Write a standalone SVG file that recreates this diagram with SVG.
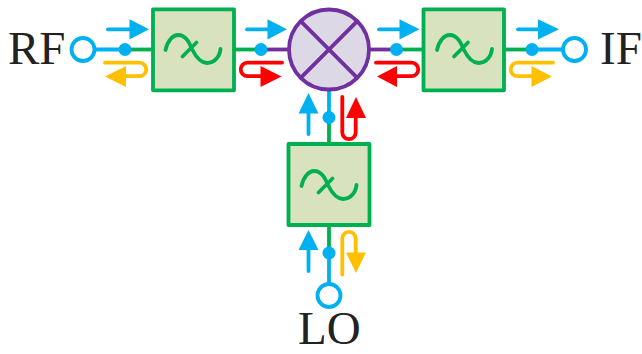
<svg xmlns="http://www.w3.org/2000/svg" width="642" height="354" viewBox="0 0 642 354">
<style>
.box{fill:#D8E2BE;stroke:#00B050;stroke-width:3.8;stroke-linejoin:round}
.sine{fill:none;stroke:#00B050;stroke-width:3.8;stroke-linecap:round}
.mix{fill:#DDD8E6;stroke:#7030A0;stroke-width:3.8}
.mixl{fill:none;stroke:#7030A0;stroke-width:3.8}
.port{fill:#fff;stroke:#00B0F0;stroke-width:3.8}
.g{stroke:#00B050;stroke-width:3.8;fill:none}
.b{stroke:#00B0F0;stroke-width:3.8;fill:none}
.p{stroke:#7030A0;stroke-width:3.8;fill:none}
.dot{fill:#00B0F0}
.ab{stroke:#00B0F0;stroke-width:3.8;fill:none;stroke-linecap:round}
.ar{stroke:#FF0000;stroke-width:3.8;fill:none;stroke-linecap:round}
.ay{stroke:#FFC000;stroke-width:3.8;fill:none;stroke-linecap:round}
.hb{fill:#00B0F0}.hr{fill:#FF0000}.hy{fill:#FFC000}
text{font-family:"Liberation Serif",serif;font-size:47px;fill:#222}
</style>
<defs>
<path id="wave" class="sine" d="M-24.500 .5C-22.500 -9 -17 -14.500 -12 -14.500C-4 -14.500 -.5 -6.500 2.500 .5C6 7.500 10 13.500 17 13.500C24 13.500 29.500 8 30.500 -.5M-7.500 7 L6.500 -7"/>
</defs>
<g id="connectors">
<path class="b" d="M83 49.500H125"/><path class="g" d="M125 49.500H153"/>
<path class="g" d="M234 49.500H261"/><path class="p" d="M261 49.500H289"/>
<path class="p" d="M369 49.500H396.500"/><path class="g" d="M396.500 49.500H424"/>
<path class="g" d="M504 49.500H532"/><path class="b" d="M532 49.500H575"/>
<path class="b" d="M329 90V117.500"/><path class="g" d="M329 117.500V144"/>
<path class="g" d="M329 225V253"/><path class="b" d="M329 253V284"/>
<circle class="dot" cx="125" cy="49.500" r="6.500"/>
<circle class="dot" cx="261" cy="49.500" r="6.500"/>
<circle class="dot" cx="396.500" cy="49.500" r="6.500"/>
<circle class="dot" cx="532" cy="49.500" r="6.500"/>
<circle class="dot" cx="329" cy="117.500" r="6.500"/>
<circle class="dot" cx="329" cy="253" r="6.500"/>
<path class="ab" d="M108 29.300H132"/><path class="hb" d="M129.500 19.300L149 29.300L129.500 39.500Z"/>
<path class="ab" d="M247 29.300H270"/><path class="hb" d="M267.500 19.300L287 29.300L267.500 39.500Z"/>
<path class="ab" d="M379 29.300H402"/><path class="hb" d="M399.500 19.300L419.500 29.300L399.500 39.500Z"/>
<path class="ab" d="M518 29.300H541"/><path class="hb" d="M538 19.300L559 29.300L538 39.500Z"/>
<path class="ay" d="M105 62.700H139.500A6.700 6.700 0 0 1 139.500 76.200H122"/><path class="hy" d="M126 66L105 76.500L126 87Z"/>
<path class="ar" d="M282 62.700H247.500A6.700 6.700 0 0 0 247.500 76.200H265"/><path class="hr" d="M260.500 66L281.500 76.500L260.500 87Z"/>
<path class="ar" d="M376 62.700H411.500A6.700 6.700 0 0 1 411.500 76.200H393"/><path class="hr" d="M397 66L377 76.500L397 87Z"/>
<path class="ay" d="M553 62.700H517.500A6.700 6.700 0 0 0 517.500 76.200H535"/><path class="hy" d="M531.500 66L552 76.500L531.500 87Z"/>
<path class="ab" d="M308.500 134V110"/><path class="hb" d="M298.500 113.500L308.500 93L318.500 113.500Z"/>
<path class="ar" d="M342.300 97V132.500A6.700 6.700 0 0 0 355.700 132.500V114"/><path class="hr" d="M346 118L356 97L366 118Z"/>
<path class="ab" d="M308.500 271V247"/><path class="hb" d="M298.500 250L308.500 230L318.500 250Z"/>
<path class="ay" d="M342.300 274.500V238.500A6.700 6.700 0 0 1 355.700 238.500V256"/><path class="hy" d="M346 252.500L356 273L366 252.500Z"/>
</g>
<g id="filter-rf"><rect class="box" x="153" y="9.300" width="81" height="81"/><use href="#wave" x="190" y="49.500"/></g>
<g id="filter-if"><rect class="box" x="423.500" y="9.300" width="80.500" height="81"/><use href="#wave" x="461.500" y="49.500"/></g>
<g id="filter-lo"><rect class="box" x="288.500" y="144" width="81" height="81"/><use href="#wave" x="326" y="185.500"/></g>
<g id="mixer"><circle class="mix" cx="329" cy="49.500" r="40"/><path class="mixl" d="M300.700 21.200L357.300 77.800M357.300 21.200L300.700 77.800"/></g>
<g id="port-rf"><circle class="port" cx="83" cy="49.500" r="11.500"/><text x="8" y="64">RF</text></g>
<g id="port-if"><circle class="port" cx="574.500" cy="49.500" r="11.500"/><text x="600" y="64">IF</text></g>
<g id="port-lo"><circle class="port" cx="329" cy="295.500" r="11.500"/><text x="298" y="343.500">LO</text></g>
</svg>
